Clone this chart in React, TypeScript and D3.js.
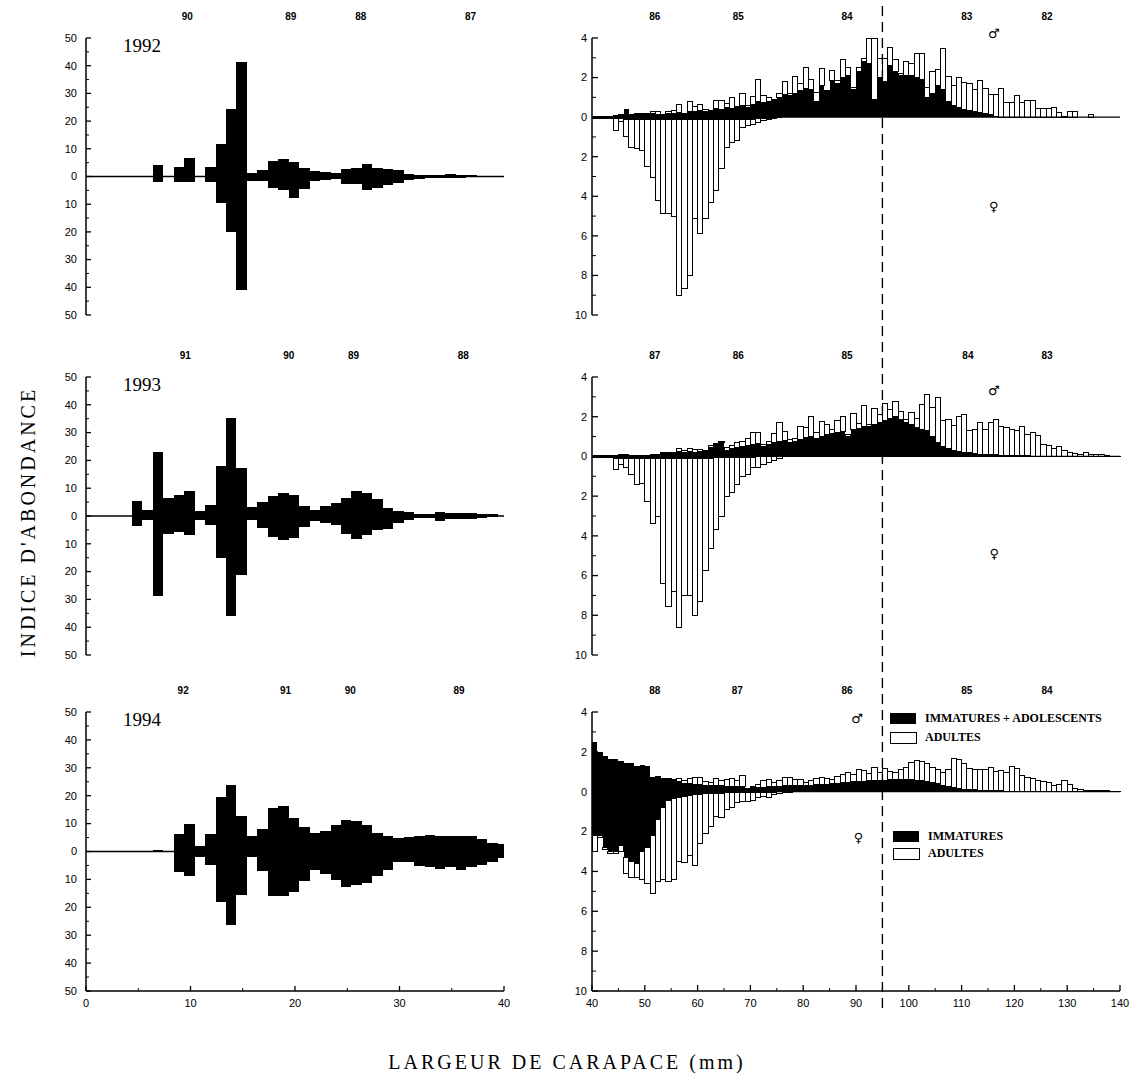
import React from 'react';
import * as d3 from 'd3';

const W = 1138;
const H = 1082;

// ---------- LEFT PANELS (0-40 mm), kite diagrams: males up, females down ----------
const leftBins = d3.range(0, 41);
const kiteUp1992 = [0,0,0,0,0,0,0, 4,0.3,3.5,6.5,0.3,3.3,11.8,24.3,41.5,1.4, 2.4,5.7,6.4,5.4,3,1.9,1.7,1.2,2.6,3, 4.6,3.2,2.6,2.2,1,0.7,0.6,0.5,0.8,0.5, 0.4,0.3,0.3,0];
const kiteDown1992 = [0,0,0,0,0,0,0, 2,0.3,2,2,0.3,2,9.4,19.9,41,1.8, 1.8,4.2,4.8,7.8,4.6,1.6,1.2,1,2.6,2.6, 4.8,4,3,2.2,1.2,0.8,0.6,0.5,0.4,0.4, 0.3,0.3,0.2,0];
const kiteUp1993 = [0,0,0,0,0, 5.4,2.3,23,6.5,7.4,8.9,1.8,3.8,17.9,35.4, 17.3,3.2,5,7.1,8.3,7.4,3.5,2,3.5,4.7, 6.6,9,8.3,6,2.9,1.7,1.3,0.6,0.8,1.4, 1,0.9,1.2,0.6,0.8,0];
const kiteDown1993 = [0,0,0,0,0, 3.7,1.6,28.6,6.6,5.8,6.7,1.3,3.4,15,36, 21.4,1.3,4.2,7.6,8.8,7.8,4,1.9,2.4,3.1, 6.6,8.2,7,5.2,4.6,2.5,1.6,0.8,0.8,1.8, 1.2,1.2,1.2,0.6,0.5,0];
const kiteUp1994 = [0,0,0,0,0,0,0, 0.6,0.2,6.2,9.9,2,6.3,19.4,23.8,12.9,5.4, 8,15.7,16.3,11.9,8.9,6.5,7.5,9.5,11.3,11, 9.5,6.5,5.7,4.8,5.1,5.4,5.8,5.4,5.4,5.4, 5.4,4.5,3.2,2.6];
const kiteDown1994 = [0,0,0,0,0,0,0, 0,0.1,7.5,8.9,1.8,4.8,18.1,26.5,15.7,1.8, 6.9,15.8,15.8,14.6,10.5,6.5,8,10.1,12.7,12.1, 11.3,8.7,6.8,3.8,3.6,5.1,5.6,6.2,5.6,6.8, 5.4,4.8,3.9,2.4];

const leftCohorts1992 = [{ label: '90', mm: 9.7 }, { label: '89', mm: 19.6 }, { label: '88', mm: 26.3 }, { label: '87', mm: 36.8 }];
const leftCohorts1993 = [{ label: '91', mm: 9.5 }, { label: '90', mm: 19.4 }, { label: '89', mm: 25.6 }, { label: '88', mm: 36.1 }];
const leftCohorts1994 = [{ label: '92', mm: 9.3 }, { label: '91', mm: 19.1 }, { label: '90', mm: 25.3 }, { label: '89', mm: 35.7 }];

// ---------- RIGHT PANELS (40-140 mm), 1-mm bins ----------
const rightBins = d3.range(40, 140);

const maleImm1992 = [
  0.08,0.08,0.08,0.06,0.05,0.1,0.43,0.15,0.15,0.12,
  0.15,0.18,0.15,0.15,0.2,0.18,0.22,0.15,0.3,0.3,
  0.35,0.28,0.3,0.45,0.4,0.5,0.45,0.5,0.6,0.5,
  0.65,0.8,0.75,0.8,0.9,1.0,1.15,1.1,1.2,1.35,
  1.45,1.4,0.8,1.6,1.3,1.85,1.7,2.0,2.1,1.4,
  2.3,2.8,2.7,0.9,2.0,1.8,2.6,2.3,2.1,2.1,
  2.1,2.0,1.9,1.0,1.2,1.6,1.4,0.8,0.6,0.5,
  0.4,0.35,0.3,0.25,0.2,0.15,0.05,0,0,0,
  0,0,0,0,0,0,0,0,0,0,
  0,0,0,0,0,0,0,0,0,0];
const maleAll1992 = [
  0.08,0.08,0.08,0.06,0.1,0.15,0.43,0.15,0.18,0.2,
  0.2,0.3,0.3,0.15,0.3,0.35,0.65,0.2,0.8,0.55,
  0.65,0.4,0.35,0.85,0.85,0.7,1.0,0.55,1.2,0.6,
  1.05,1.9,1.1,1.0,0.9,1.2,1.8,1.2,2.05,1.7,
  2.5,1.9,1.25,2.45,1.35,2.35,1.85,2.9,2.5,1.5,
  2.5,2.95,4.0,4.0,2.95,2.95,3.5,2.9,2.2,2.8,
  2.7,3.2,3.2,1.5,2.3,2.4,3.45,2.05,1.6,2.0,
  1.75,1.7,1.4,1.85,1.45,1.15,1.15,1.45,0.75,0.75,
  1.1,0.75,0.85,0.85,0.45,0.45,0.45,0.5,0.25,0.05,
  0.3,0.3,0,0,0.15,0,0,0,0,0];
const femaleImm1992 = [
  0.08,0.08,0.08,0.08,0.08,0.08,0.1,0.1,0.1,0.1,
  0.1,0.1,0.1,0.1,0.1,0.1,0.1,0.1,0.1,0.1,
  0.1,0.1,0.1,0.1,0.1,0.1,0.1,0.1,0.1,0.1,
  0.1,0.05,0.05,0.05,0.05,0.05,0,0,0,0,
  0,0,0,0,0,0,0,0,0,0,
  0,0,0,0,0,0,0,0,0,0,
  0,0,0,0,0,0,0,0,0,0,
  0,0,0,0,0,0,0,0,0,0,
  0,0,0,0,0,0,0,0,0,0,
  0,0,0,0,0,0,0,0,0,0];
const femaleAll1992 = [
  0.08,0.08,0.08,0.08,0.67,0.2,1.0,1.53,1.58,1.67,
  2.5,3.07,4.2,4.87,4.87,5.0,9.0,8.67,8.0,5.1,
  5.9,5.1,4.3,3.7,2.6,1.53,1.28,1.17,0.53,0.4,
  0.37,0.28,0.17,0.12,0.07,0.05,0,0,0,0,
  0,0,0,0,0,0,0,0,0,0,
  0,0,0,0,0,0,0,0,0,0,
  0,0,0,0,0,0,0,0,0,0,
  0,0,0,0,0,0,0,0,0,0,
  0,0,0,0,0,0,0,0,0,0,
  0,0,0,0,0,0,0,0,0,0];

const maleImm1993 = [
  0.05,0.05,0.05,0.05,0.05,0.08,0.08,0.05,0.05,0.05,
  0.08,0.1,0.1,0.15,0.15,0.15,0.25,0.2,0.25,0.2,
  0.25,0.25,0.45,0.6,0.7,0.3,0.4,0.45,0.5,0.55,
  0.6,0.65,0.5,0.6,0.7,0.75,0.8,0.7,0.75,0.85,
  0.95,1.0,0.9,1.0,1.1,1.15,1.2,1.25,1.0,1.35,
  1.4,1.5,1.5,1.6,1.7,1.8,1.9,2.0,1.85,1.7,
  1.6,1.45,1.35,1.3,1.0,0.7,0.5,0.4,0.3,0.25,
  0.2,0.18,0.15,0.12,0.1,0.1,0.08,0.06,0.05,0.05,
  0.04,0.03,0.03,0.02,0.02,0.02,0,0,0,0,
  0,0,0,0,0,0,0,0,0,0];
const maleAll1993 = [
  0.05,0.05,0.05,0.05,0.05,0.1,0.1,0.05,0.05,0.05,
  0.08,0.1,0.1,0.2,0.2,0.2,0.4,0.3,0.4,0.35,
  0.35,0.3,0.55,0.65,0.75,0.45,0.55,0.7,0.75,0.9,
  1.2,1.2,0.6,0.75,1.15,1.7,1.25,0.85,0.9,1.5,
  1.45,2.0,1.2,1.75,1.6,1.35,1.8,2.0,1.1,2.15,
  1.65,2.55,1.6,2.4,2.1,2.65,2.35,2.75,2.25,1.85,
  2.2,1.9,2.6,3.1,2.45,2.95,1.8,1.85,1.55,2.0,
  2.1,1.3,1.35,1.7,1.35,1.7,1.85,1.5,1.45,1.35,
  1.3,1.5,1.1,1.2,1.05,0.6,0.55,0.4,0.5,0.3,
  0.2,0.15,0.1,0.2,0.1,0.1,0.1,0.05,0.02,0.02];
const femaleImm1993 = [
  0.1,0.1,0.1,0.1,0.1,0.1,0.1,0.1,0.1,0.1,
  0.1,0.1,0.1,0.1,0.1,0.1,0.1,0.1,0.1,0.1,
  0.1,0.1,0.1,0.05,0.05,0.05,0.05,0.05,0.05,0.05,
  0.05,0,0,0,0,0,0,0,0,0,
  0,0,0,0,0,0,0,0,0,0,
  0,0,0,0,0,0,0,0,0,0,
  0,0,0,0,0,0,0,0,0,0,
  0,0,0,0,0,0,0,0,0,0,
  0,0,0,0,0,0,0,0,0,0,
  0,0,0,0,0,0,0,0,0,0];
const femaleAll1993 = [
  0.1,0.1,0.1,0.1,0.65,0.4,0.55,0.9,1.4,1.35,
  2.25,3.4,3.05,6.4,7.55,6.8,8.6,7.0,7.0,8.0,
  7.3,5.75,4.65,3.7,3.0,2.0,1.8,1.4,1.0,0.9,
  0.55,0.55,0.4,0.3,0.2,0.1,0,0,0,0,
  0,0,0,0,0,0,0,0,0,0,
  0,0,0,0,0,0,0,0,0,0,
  0,0,0,0,0,0,0,0,0,0,
  0,0,0,0,0,0,0,0,0,0,
  0,0,0,0,0,0,0,0,0,0,
  0,0,0,0,0,0,0,0,0,0];

const maleImm1994 = [
  2.5,2.0,1.8,1.65,1.65,1.55,1.45,1.45,1.3,1.35,
  1.3,0.75,0.7,0.7,0.6,0.55,0.5,0.4,0.4,0.35,
  0.35,0.3,0.3,0.3,0.3,0.25,0.25,0.25,0.25,0.2,
  0.2,0.2,0.2,0.25,0.25,0.25,0.3,0.3,0.3,0.3,
  0.3,0.3,0.35,0.35,0.35,0.4,0.4,0.45,0.45,0.5,
  0.5,0.5,0.55,0.55,0.55,0.55,0.6,0.6,0.6,0.6,
  0.6,0.55,0.55,0.5,0.45,0.4,0.3,0.25,0.2,0.15,
  0.12,0.1,0.1,0.08,0.06,0.05,0.05,0.04,0.03,0.03,
  0.02,0.02,0.02,0.02,0,0,0,0,0,0,
  0,0,0,0,0,0,0,0,0,0];
const maleAll1994 = [
  2.5,2.0,1.8,1.65,1.65,1.55,1.45,1.45,1.3,1.35,
  1.3,0.75,0.75,0.7,0.65,0.6,0.65,0.55,0.65,0.7,
  0.7,0.5,0.45,0.65,0.55,0.6,0.65,0.55,0.8,0.2,
  0.25,0.35,0.55,0.6,0.45,0.55,0.7,0.7,0.6,0.6,
  0.45,0.55,0.65,0.7,0.65,0.6,0.75,0.85,0.95,0.85,
  1.1,1.05,0.9,1.2,0.95,1.15,1.0,0.95,1.1,1.2,
  1.45,1.55,1.5,1.4,1.2,1.1,0.95,1.1,1.65,1.6,
  1.4,1.15,1.1,1.1,1.1,1.2,1.0,1.05,0.95,1.25,
  1.15,0.8,0.7,0.65,0.55,0.5,0.45,0.3,0.35,0.55,
  0.35,0.15,0.1,0.05,0.05,0.05,0.08,0.05,0.02,0.02];
const femaleImm1994 = [
  2.2,2.2,2.8,3.0,3.0,2.7,3.3,3.5,3.6,3.0,
  2.8,2.2,1.4,0.8,0.45,0.35,0.3,0.25,0.2,0.15,
  0.15,0.1,0.1,0.1,0.08,0.05,0.05,0.05,0.04,0.04,
  0.03,0.03,0.02,0.02,0.02,0,0,0,0,0,
  0,0,0,0,0,0,0,0,0,0,
  0,0,0,0,0,0,0,0,0,0,
  0,0,0,0,0,0,0,0,0,0,
  0,0,0,0,0,0,0,0,0,0,
  0,0,0,0,0,0,0,0,0,0,
  0,0,0,0,0,0,0,0,0,0];
const femaleAll1994 = [
  3.0,2.3,2.9,3.1,3.1,3.0,4.1,4.3,4.3,4.4,
  4.6,5.1,4.5,4.4,4.5,4.4,3.5,3.55,3.2,3.7,
  2.6,2.1,1.75,1.25,1.3,0.9,0.8,0.55,0.5,0.5,
  0.45,0.3,0.25,0.3,0.15,0.1,0.02,0.02,0,0,
  0,0,0,0,0,0,0,0,0,0,
  0,0,0,0,0,0,0,0,0,0,
  0,0,0,0,0,0,0,0,0,0,
  0,0,0,0,0,0,0,0,0,0,
  0,0,0,0,0,0,0,0,0,0,
  0,0,0,0,0,0,0,0,0,0];

const rightCohorts1992 = [{ label: '86', mm: 51.9 }, { label: '85', mm: 67.7 }, { label: '84', mm: 88.3 }, { label: '83', mm: 111 }, { label: '82', mm: 126.2 }];
const rightCohorts1993 = [{ label: '87', mm: 51.9 }, { label: '86', mm: 67.7 }, { label: '85', mm: 88.3 }, { label: '84', mm: 111.2 }, { label: '83', mm: 126.2 }];
const rightCohorts1994 = [{ label: '88', mm: 51.9 }, { label: '87', mm: 67.5 }, { label: '86', mm: 88.3 }, { label: '85', mm: 111 }, { label: '84', mm: 126.2 }];

// sex symbol positions (mm, abundance)
const maleSymbol = [{ mm: 116.1, v: 4.25 }, { mm: 116.1, v: 3.3 }, { mm: 90.2, v: 3.7 }];
const femaleSymbol = [{ mm: 116.1, v: -4.5 }, { mm: 116.2, v: -4.9 }, { mm: 90.5, v: -2.3 }];

const years = ['1992', '1993', '1994'];
const leftTicks = [-50, -40, -30, -20, -10, 0, 10, 20, 30, 40, 50];
const rightTicks = [-10, -8, -6, -4, -2, 0, 2, 4];
const leftXTicks = [0, 10, 20, 30, 40];
const rightXTicks = [40, 50, 60, 70, 80, 90, 100, 110, 120, 130, 140];
const cutoffMM = 95;

const SANS = "'Liberation Sans', Arial, sans-serif";
const SERIF = "'Liberation Serif', 'Times New Roman', serif";

export default function App() {
  const leftX = d3.scaleLinear().domain([0, 40]).range([86, 504]);
  const rightX = d3.scaleLinear().domain([40, 140]).range([592, 1120]);
  const rows: [number, number][] = [[38, 315], [377, 655], [712, 991]];

  const kites = [
    [kiteUp1992, kiteDown1992],
    [kiteUp1993, kiteDown1993],
    [kiteUp1994, kiteDown1994],
  ];
  const rightData = [
    [maleImm1992, maleAll1992, femaleImm1992, femaleAll1992],
    [maleImm1993, maleAll1993, femaleImm1993, femaleAll1993],
    [maleImm1994, maleAll1994, femaleImm1994, femaleAll1994],
  ];
  const leftCohorts = [leftCohorts1992, leftCohorts1993, leftCohorts1994];
  const rightCohorts = [rightCohorts1992, rightCohorts1993, rightCohorts1994];

  const panels = rows.map(([top, bottom], r) => {
    const ly = d3.scaleLinear().domain([-50, 50]).range([bottom, top]);
    const ry = d3.scaleLinear().domain([-10, 4]).range([bottom, top]);
    const [up, down] = kites[r];
    const [mImm, mAll, fImm, fAll] = rightData[r];
    const isLast = r === 2;

    const leftMinor = d3.range(-45, 50, 10);
    const rightMinor = [-9, -7, -5, -3, -1, 1, 3];

    return (
      <g key={r}>
        {/* ---------- LEFT ---------- */}
        <line x1={leftX(0)} x2={leftX(40)} y1={ly(0)} y2={ly(0)} stroke="#000" strokeWidth={1.3} />
        {leftBins.map((k, i) => {
          const u = up[i];
          const d = down[i];
          if (!u && !d) return null;
          const x0 = Math.max(0, k - 0.6);
          const x1 = Math.min(40, k + 0.4);
          return (
            <rect key={i} x={leftX(x0)} width={leftX(x1) - leftX(x0)} y={ly(u)} height={ly(-d) - ly(u)}
              fill="#000" shapeRendering="crispEdges" />
          );
        })}
        <line x1={leftX(0)} x2={leftX(0)} y1={top} y2={bottom} stroke="#000" strokeWidth={1.5} />
        {leftTicks.map((t) => (
          <g key={'lt' + t}>
            <line x1={leftX(0)} x2={leftX(0) + 5} y1={ly(t)} y2={ly(t)} stroke="#000" strokeWidth={1.3} />
            <text x={77} y={ly(t)} dy="0.35em" textAnchor="end" fontFamily={SANS} fontSize={11}>{Math.abs(t)}</text>
          </g>
        ))}
        {leftMinor.map((t) => (
          <line key={'lm' + t} x1={leftX(0)} x2={leftX(0) + 3} y1={ly(t)} y2={ly(t)} stroke="#000" strokeWidth={1} />
        ))}
        <text x={123} y={top + 14} fontFamily={SERIF} fontSize={19}>{years[r]}</text>
        {leftCohorts[r].map((c) => (
          <text key={'lc' + c.label} x={leftX(c.mm)} y={top - 18} textAnchor="middle" fontFamily={SANS} fontSize={10} fontWeight="bold">{c.label}</text>
        ))}
        {isLast && (
          <g>
            <line x1={leftX(0)} x2={leftX(40)} y1={bottom} y2={bottom} stroke="#000" strokeWidth={1.5} />
            {leftXTicks.map((t) => (
              <g key={'lx' + t}>
                <line x1={leftX(t)} x2={leftX(t)} y1={bottom} y2={bottom - 5} stroke="#000" strokeWidth={1.3} />
                <text x={leftX(t)} y={bottom + 16} textAnchor="middle" fontFamily={SANS} fontSize={11}>{t}</text>
              </g>
            ))}
            {[5, 15, 25, 35].map((t) => (
              <line key={'lxm' + t} x1={leftX(t)} x2={leftX(t)} y1={bottom} y2={bottom - 3} stroke="#000" strokeWidth={1} />
            ))}
          </g>
        )}

        {/* ---------- RIGHT ---------- */}
        {rightBins.map((b, i) => {
          const x0 = rightX(b);
          const w = rightX(b + 1) - rightX(b);
          const els = [];
          const mi = mImm[i];
          const ma = Math.max(mAll[i], mi);
          const fi = fImm[i];
          const fa = Math.max(fAll[i], fi);
          if (ma - mi > 0.001) {
            els.push(<rect key="mw" x={x0} width={w} y={ry(ma)} height={ry(mi) - ry(ma)} fill="#fff" stroke="#000" strokeWidth={1} shapeRendering="crispEdges" />);
          }
          if (mi > 0) {
            els.push(<rect key="mb" x={x0} width={w} y={ry(mi)} height={ry(0) - ry(mi)} fill="#000" shapeRendering="crispEdges" />);
          }
          if (fa - fi > 0.001) {
            els.push(<rect key="fw" x={x0} width={w} y={ry(-fi)} height={ry(-fa) - ry(-fi)} fill="#fff" stroke="#000" strokeWidth={1} shapeRendering="crispEdges" />);
          }
          if (fi > 0) {
            els.push(<rect key="fb" x={x0} width={w} y={ry(0)} height={ry(-fi) - ry(0)} fill="#000" shapeRendering="crispEdges" />);
          }
          return <g key={i}>{els}</g>;
        })}
        <line x1={rightX(40)} x2={rightX(140)} y1={ry(0)} y2={ry(0)} stroke="#000" strokeWidth={1.2} />
        <line x1={rightX(40)} x2={rightX(40)} y1={top} y2={bottom} stroke="#000" strokeWidth={1.5} />
        {rightTicks.map((t) => (
          <g key={'rt' + t}>
            <line x1={rightX(40)} x2={rightX(40) + 6} y1={ry(t)} y2={ry(t)} stroke="#000" strokeWidth={1.3} />
            <text x={587} y={ry(t)} dy="0.35em" textAnchor="end" fontFamily={SANS} fontSize={11}>{Math.abs(t)}</text>
          </g>
        ))}
        {rightMinor.map((t) => (
          <line key={'rm' + t} x1={rightX(40)} x2={rightX(40) + 4} y1={ry(t)} y2={ry(t)} stroke="#000" strokeWidth={1} />
        ))}
        {rightCohorts[r].map((c) => (
          <text key={'rc' + c.label} x={rightX(c.mm)} y={top - 18} textAnchor="middle" fontFamily={SANS} fontSize={10} fontWeight="bold">{c.label}</text>
        ))}
        <text x={rightX(maleSymbol[r].mm)} y={ry(maleSymbol[r].v)} dy="0.35em" textAnchor="middle" fontFamily="'DejaVu Sans', sans-serif" fontSize={13}>♂</text>
        <text x={rightX(femaleSymbol[r].mm)} y={ry(femaleSymbol[r].v)} dy="0.35em" textAnchor="middle" fontFamily="'DejaVu Sans', sans-serif" fontSize={13}>♀</text>
        {isLast && (
          <g>
            <line x1={rightX(40)} x2={rightX(140)} y1={bottom} y2={bottom} stroke="#000" strokeWidth={1.5} />
            {rightXTicks.map((t) => (
              <g key={'rx' + t}>
                <line x1={rightX(t)} x2={rightX(t)} y1={bottom} y2={bottom - 6} stroke="#000" strokeWidth={1.3} />
                <text x={rightX(t)} y={bottom + 16} textAnchor="middle" fontFamily={SANS} fontSize={11}>{t}</text>
              </g>
            ))}
            {[45, 55, 65, 75, 85, 95, 105, 115, 125, 135].map((t) => (
              <line key={'rxm' + t} x1={rightX(t)} x2={rightX(t)} y1={bottom} y2={bottom - 3} stroke="#000" strokeWidth={1} />
            ))}
          </g>
        )}
      </g>
    );
  });

  const cx = rightX(cutoffMM);

  return (
    <svg width={W} height={H} viewBox={`0 0 ${W} ${H}`} style={{ position: 'absolute', left: 0, top: 0, background: '#fff' }}>
      <rect x={0} y={0} width={W} height={H} fill="#fff" />
      {panels}
      <line x1={cx} x2={cx} y1={6} y2={1012} stroke="#000" strokeWidth={1.4} strokeDasharray="10,6" />

      {/* Legend (1994 panel) */}
      <rect x={890} y={713} width={26} height={11} fill="#000" />
      <text x={925} y={722} fontFamily={SERIF} fontWeight="bold" fontSize={12}>IMMATURES + ADOLESCENTS</text>
      <rect x={890.5} y={732.5} width={26} height={11} fill="#fff" stroke="#000" strokeWidth={1} />
      <text x={925} y={741} fontFamily={SERIF} fontWeight="bold" fontSize={12}>ADULTES</text>
      <rect x={893} y={831} width={26} height={11} fill="#000" />
      <text x={928} y={840} fontFamily={SERIF} fontWeight="bold" fontSize={12}>IMMATURES</text>
      <rect x={893.5} y={848.5} width={26} height={11} fill="#fff" stroke="#000" strokeWidth={1} />
      <text x={928} y={857} fontFamily={SERIF} fontWeight="bold" fontSize={12}>ADULTES</text>

      {/* Axis titles */}
      <text transform="translate(35,522) rotate(-90)" textAnchor="middle" fontFamily={SERIF} fontSize={20} letterSpacing={3}>INDICE D'ABONDANCE</text>
      <text x={567} y={1069} textAnchor="middle" fontFamily={SERIF} fontSize={20} letterSpacing={3}>LARGEUR DE CARAPACE (mm)</text>
    </svg>
  );
}
